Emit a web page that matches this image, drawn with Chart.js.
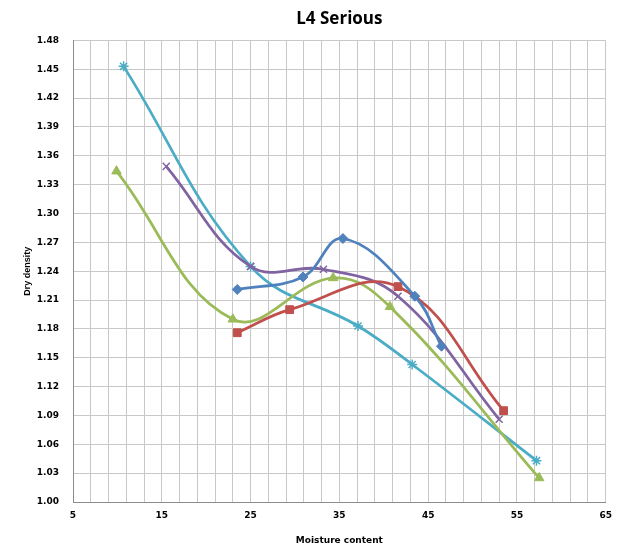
<!DOCTYPE html>
<html>
<head>
<meta charset="utf-8">
<script src="https://cdn.jsdelivr.net/npm/chart.js@4"></script>
<style>
  html, body { margin: 0; padding: 0; background: #fff; }
  #wrap { width: 620px; height: 550px; }
</style>
</head>
<body>
<div id="wrap"><canvas id="chart" width="620" height="550"></canvas></div>
<script>
// L4 Serious - dry density vs moisture content

const seriesNames = ['Series1', 'Series2', 'Series3', 'Series4', 'Series5'];
const seriesColors = ['#4F81BD', '#C0504D', '#9BBB59', '#8064A2', '#4BACC6'];

const blueX = [23.5, 30.9, 35.4, 43.5, 46.5];
const blueY = [1.221, 1.234, 1.274, 1.214, 1.162];

const redX = [23.5, 29.4, 41.6, 53.5];
const redY = [1.176, 1.200, 1.224, 1.095];

const greenX = [9.9, 23.0, 34.3, 40.7, 57.5];
const greenY = [1.344, 1.190, 1.233, 1.203, 1.025];

const purpleX = [15.5, 25.0, 33.2, 41.6, 53.0];
const purpleY = [1.349, 1.245, 1.242, 1.214, 1.086];

const cyanX = [10.7, 25.0, 37.1, 43.2, 57.2];
const cyanY = [1.453, 1.245, 1.183, 1.143, 1.043];

const xTickLabels = [5, 15, 25, 35, 45, 55, 65];

function pts(xs, ys) {
    return xs.map((x, i) => ({ x: x, y: ys[i] }));
}

const allX = [blueX, redX, greenX, purpleX, cyanX];
const allY = [blueY, redY, greenY, purpleY, cyanY];
const markers = ['rectRot', 'rect', 'triangle', 'crossRot', 'star'];
const markerSize = [5, 5.5, 5.5, 5, 5];

const datasets = allX.map((xs, i) => ({
    label: seriesNames[i],
    data: pts(xs, allY[i]),
    showLine: true,
    tension: 0.4,
    borderColor: seriesColors[i],
    backgroundColor: seriesColors[i],
    borderWidth: 2.75,
    pointStyle: markers[i],
    pointRadius: markerSize[i],
    pointBorderWidth: i >= 3 ? 1.5 : 1,
    pointBorderColor: seriesColors[i],
    pointBackgroundColor: seriesColors[i]
}));

const tickFont = { family: 'DejaVu Sans', size: 9, weight: 'bold' };

new Chart(document.getElementById('chart').getContext('2d'), {
    type: 'scatter',
    data: { datasets: datasets },
    options: {
        responsive: false,
        animation: false,
        layout: { padding: { left: 22, right: 10, top: 0, bottom: 4 } },
        plugins: {
            legend: { display: false },
            tooltip: { enabled: false },
            title: {
                display: true,
                text: 'L4 Serious',
                fullSize: false,
                color: '#000',
                font: { family: 'Open Sans', size: 17, weight: 'bold' },
                padding: { top: 9, bottom: 11 }
            }
        },
        scales: {
            x: {
                type: 'linear',
                min: 5,
                max: 65,
                afterFit: (s) => { s.height = 44; },
                ticks: {
                    stepSize: 2,
                    autoSkip: false,
                    maxRotation: 0,
                    padding: 8,
                    color: '#000',
                    font: tickFont,
                    callback: (v) => xTickLabels.includes(v) ? String(v) : ''
                },
                grid: { color: '#c8c8c8', lineWidth: 1, drawTicks: false },
                border: { color: '#8c8c8c', width: 1 },
                title: {
                    display: true,
                    text: 'Moisture content',
                    color: '#000',
                    font: { family: 'DejaVu Sans', size: 9, weight: 'bold' },
                    padding: { top: 6, bottom: 0 }
                }
            },
            y: {
                type: 'linear',
                min: 1.00,
                max: 1.48,
                afterFit: (s) => { s.width = 51; },
                ticks: {
                    stepSize: 0.03,
                    padding: 14,
                    color: '#000',
                    font: tickFont,
                    callback: (v) => Number(v).toFixed(2)
                },
                grid: { color: '#c8c8c8', lineWidth: 1, drawTicks: false },
                border: { color: '#8c8c8c', width: 1 },
                title: {
                    display: true,
                    text: 'Dry density',
                    color: '#000',
                    font: { family: 'Liberation Sans', size: 9, weight: 'bold' },
                    padding: { top: 0, bottom: 0 }
                }
            }
        }
    }
});
</script>
</body>
</html>
